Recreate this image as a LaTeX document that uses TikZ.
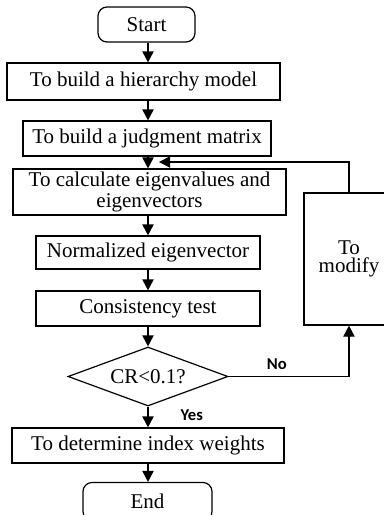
\documentclass[tikz,border=0pt]{standalone}
\usepackage{fontspec}
\setmainfont{Liberation Serif}
\newfontfamily\lblfont{Carlito}
\usepackage{tikz}
\usetikzlibrary{shapes.geometric, arrows.meta, positioning, calc}
\newcommand{\boxfont}{\fontsize{10.5}{9}\selectfont}
\newcommand{\lblsize}{\lblfont\bfseries\fontsize{8.3}{9}\selectfont}
\tikzset{
  block/.style={rectangle, draw=black, align=center, inner sep=0pt,
    font=\boxfont, line width=0.6pt},
  termblock/.style={block, rounded corners=4.5pt},
  decision/.style={diamond, draw=black, aspect=2.7, inner sep=0pt,
    font=\boxfont, line width=0.6pt},
  lbl/.style={inner sep=0pt, font=\lblsize},
  arrow/.style={-{Triangle[length=5.5pt, width=5.6pt]}, line width=0.6pt, color=black}
}

\begin{document}
\begin{tikzpicture}[x=0.5pt, y=-0.5pt]
  \useasboundingbox (0,0) rectangle (384,515);

  % --- Main column ---
  \node[termblock, minimum width=48.5pt, minimum height=17.5pt] (start) at (146.5,24.5) {Start};
  \node[block, minimum width=136.5pt, minimum height=18.5pt] (hier) at (143.5,81.5) {To build a hierarchy model};
  \node[block, minimum width=124pt, minimum height=17.5pt] (judg) at (147,138.5) {To build a judgment matrix};
  \node[block, minimum width=136.5pt, minimum height=23pt] (calc) at (149.5,192) {To calculate eigenvalues and\\eigenvectors};
  \node[block, minimum width=112pt, minimum height=16.5pt] (norm) at (148,252.5) {Normalized eigenvector};
  \node[block, minimum width=112pt, minimum height=17.5pt] (cons) at (148,308.5) {Consistency test};
  \node[decision, minimum width=80pt, minimum height=29.5pt] (dec) at (148,376.5) {CR<0.1?};
  \node[block, minimum width=136pt, minimum height=17.5pt] (det) at (148,445.5) {To determine index weights};
  \node[termblock, minimum width=64.5pt, minimum height=19pt] (end) at (147.5,501.5) {End};

  % --- Feedback branch ---
  \node[block, minimum width=45pt, minimum height=66pt] (modify) at (349,259) {To\\modify};
  \coordinate (back) at (159,162);

  % Connectors
  \draw[arrow] (start.south -| dec) -- (hier.north -| dec);
  \draw[arrow] (hier.south -| dec) -- (judg.north -| dec);
  \draw[arrow] (judg.south -| dec) -- (calc.north -| dec);
  \draw[arrow] (calc.south -| dec) -- (norm.north);
  \draw[arrow] (norm.south) -- (cons.north);
  \draw[arrow] (cons.south) -- (dec.north);
  \draw[arrow] (dec.south) -- node[lbl, pos=0.4, right=16pt] {Yes} (det.north);
  \draw[arrow] (det.south) -- (end.north -| dec);
  \draw[arrow] (dec.east) -| node[lbl, pos=0.2, above=3pt] {No} (modify.south);
  \draw[arrow] (modify.north) |- (back);
\end{tikzpicture}
\end{document}
